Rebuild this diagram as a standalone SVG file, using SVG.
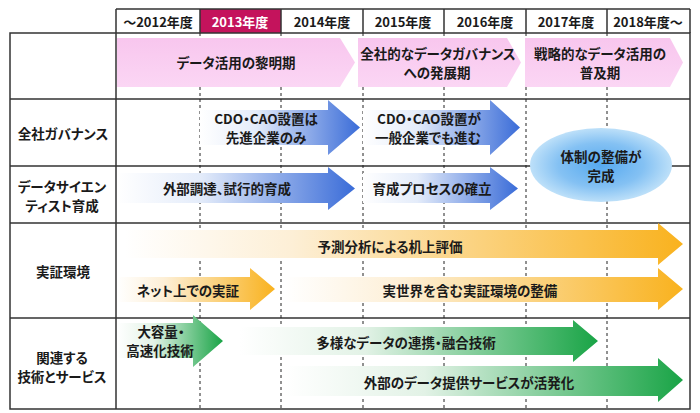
<svg xmlns="http://www.w3.org/2000/svg" width="700" height="413" viewBox="0 0 700 413">
<style>
  text{font-family:"Noto Sans CJK JP","Noto Sans",sans-serif;font-weight:700;font-size:13.5px;fill:#1a1a1a;text-anchor:middle;dominant-baseline:central;font-feature-settings:"palt"}
  .hd{font-size:13px}
  .wh{fill:#ffffff}
  .grid{stroke:#333;stroke-width:1.5;fill:none}
  .dash{stroke:#222;stroke-width:1;stroke-dasharray:3 3;fill:none}
  .pink{fill:url(#gPink)}
</style>
<defs>
  <linearGradient id="gPink" x1="0" y1="0" x2="0" y2="1">
    <stop offset="0" stop-color="#F8C6EE"/>
    <stop offset="1" stop-color="#FBD6F4"/>
  </linearGradient>
  <linearGradient id="gBlue" x1="0" y1="0" x2="1" y2="0">
    <stop offset="0" stop-color="#ffffff"/>
    <stop offset="0.35" stop-color="#E4ECFA"/>
    <stop offset="1" stop-color="#3A6CD8"/>
  </linearGradient>
  <linearGradient id="gOrange" x1="0" y1="0" x2="1" y2="0">
    <stop offset="0" stop-color="#ffffff"/>
    <stop offset="0.3" stop-color="#FDEFD6"/>
    <stop offset="1" stop-color="#F9B21E"/>
  </linearGradient>
  <linearGradient id="gGreen" x1="0" y1="0" x2="1" y2="0">
    <stop offset="0" stop-color="#ffffff"/>
    <stop offset="0.35" stop-color="#E2F2E6"/>
    <stop offset="1" stop-color="#19A446"/>
  </linearGradient>
  <radialGradient id="gEll" cx="0.5" cy="0.5" r="0.5">
    <stop offset="0" stop-color="#56A9EF"/>
    <stop offset="0.6" stop-color="#84C1F3"/>
    <stop offset="1" stop-color="#BDE0F9"/>
  </radialGradient>
</defs>

<g id="grid">
  <rect x="200" y="9" width="81" height="24" fill="#C4135C"/>
  <path class="grid" d="M116,9 H690 M116,9 V33 M200,9 V33 M281,9 V33 M363,9 V33 M444,9 V33 M526,9 V33 M607,9 V33 M690,9 V33"/>
  <rect class="grid" x="10" y="33" width="680" height="376"/>
  <path class="grid" d="M116,33 V409 M10,99 H690 M10,166 H690 M10,223 H690 M10,318 H690"/>
  <path class="dash" d="M200,33 V409 M281,33 V409 M363,33 V409 M444,33 V409 M526,33 V409 M607,33 V409"/>
</g>

<g id="header">
  <text class="hd" x="158" y="21">～2012年度</text>
  <text class="hd wh" x="240" y="21">2013年度</text>
  <text class="hd" x="322" y="21">2014年度</text>
  <text class="hd" x="403" y="21">2015年度</text>
  <text class="hd" x="485" y="21">2016年度</text>
  <text class="hd" x="566" y="21">2017年度</text>
  <text class="hd" x="648" y="21">2018年度～</text>
</g>

<g id="row-labels">
  <text x="63" y="133">全社ガバナンス</text>
  <text x="62" y="186">データサイエン</text>
  <text x="62" y="205">ティスト育成</text>
  <text x="63" y="271">実証環境</text>
  <text x="62" y="357">関連する</text>
  <text x="62" y="376">技術とサービス</text>
</g>

<g id="phase1">
  <path class="pink" d="M117,38 H340 L355,62.5 L340,87 H117 Z"/>
  <text x="236" y="62">データ活用の黎明期</text>
</g>
<g id="phase2">
  <path class="pink" d="M358,38 H507 L521,62.5 L507,87 H358 Z"/>
  <text x="438" y="53">全社的なデータガバナンス</text>
  <text x="437" y="72">への発展期</text>
</g>
<g id="phase3">
  <path class="pink" d="M525,38 H670 L683,62.5 L670,87 H525 Z"/>
  <text x="600" y="53">戦略的なデータ活用の</text>
  <text x="600" y="72">普及期</text>
</g>

<g id="gov1">
  <path fill="url(#gBlue)" d="M200,110 H328 V100 L360,127.5 L328,155 V145 H200 Z"/>
  <text x="266" y="118">CDO・CAO設置は</text>
  <text x="266" y="137">先進企業のみ</text>
</g>
<g id="gov2">
  <path fill="url(#gBlue)" d="M363,110 H490 V100 L520,127.5 L490,155 V145 H363 Z"/>
  <text x="429" y="118">CDO・CAO設置が</text>
  <text x="428" y="137">一般企業でも進む</text>
</g>
<g id="ds1">
  <path fill="url(#gBlue)" d="M117,173 H328 V167 L355,188.5 L328,210 V203 H117 Z"/>
  <text x="227" y="188">外部調達、試行的育成</text>
</g>
<g id="ds2">
  <path fill="url(#gBlue)" d="M363,173 H490 V167 L518,188.5 L490,210 V203 H363 Z"/>
  <text x="432" y="188">育成プロセスの確立</text>
</g>
<g id="complete">
  <ellipse cx="601" cy="165" rx="71" ry="37" fill="url(#gEll)"/>
  <text x="601" y="156">体制の整備が</text>
  <text x="601" y="175">完成</text>
</g>

<g id="env1">
  <path fill="url(#gOrange)" d="M125,230 H658 V223 L683,244 L658,265 V258 H125 Z"/>
  <text x="390" y="246">予測分析による机上評価</text>
</g>
<g id="env2">
  <path fill="url(#gOrange)" d="M117,277 H250 V268 L275,289 L250,310 V302 H117 Z"/>
  <text x="188" y="290">ネット上での実証</text>
</g>
<g id="env3">
  <path fill="url(#gOrange)" d="M285,277 H658 V268 L683,289 L658,310 V302 H285 Z"/>
  <text x="470" y="290">実世界を含む実証環境の整備</text>
</g>

<g id="tech1">
  <path fill="url(#gGreen)" d="M117,323 H193 V315 L223,341 L193,367 V358 H117 Z"/>
  <text x="161" y="331">大容量・</text>
  <text x="160" y="350">高速化技術</text>
</g>
<g id="tech2">
  <path fill="url(#gGreen)" d="M240,327 H573 V320 L598,341 L573,362 V355 H240 Z"/>
  <text x="406" y="342">多様なデータの連携・融合技術</text>
</g>
<g id="tech3">
  <path fill="url(#gGreen)" d="M285,366 H658 V358 L683,380 L658,402 V396 H285 Z"/>
  <text x="469" y="382">外部のデータ提供サービスが活発化</text>
</g>

<g id="connectors"></g>
</svg>
